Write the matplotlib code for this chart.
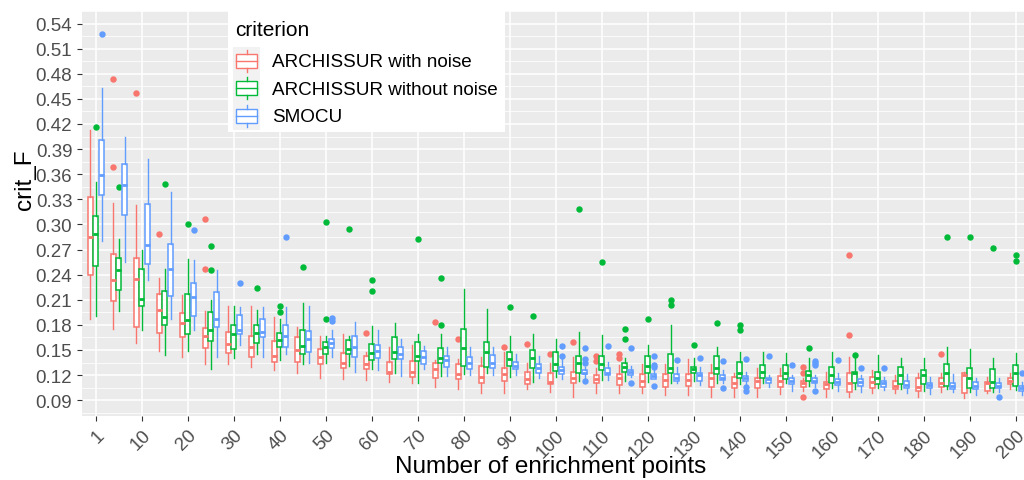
import matplotlib
matplotlib.use("Agg")
import matplotlib.pyplot as plt
from matplotlib.patches import Rectangle

plt.rcParams['font.family'] = ['Liberation Sans', 'DejaVu Sans']

# categories: number of enrichment points
points = [1] + list(range(5, 201, 5))
tick_labels = ['1'] + [str(v) for v in range(10, 201, 10)]
series = ['ARCHISSUR with noise', 'ARCHISSUR without noise', 'SMOCU']
colors = ['#F8766D', '#00BA38', '#619CFF']

# ARCHISSUR with noise: whisker low, q1, median, q3, whisker high
noise_lo = [.187, .175, .158, .149, .141, .133, .133, .130, .126, .122, .117, .115, .1145, .112,
            .110, .106, .1035, .098, .099, .103, .100, .094, .098, .098, .099, .096, .096, .094,
            .094, .094, .097, .101, .094, .094, .098, .098, .094, .100, .0925, .098, .103]
noise_q1 = [.240, .209, .178, .170, .166, .152, .146, .142, .136, .136, .133, .128, .127, .121,
            .118, .116, .115, .111, .113, .109, .109, .110, .110, .108, .106, .106, .107, .1055,
            .104, .105, .106, .106, .103, .100, .104, .103, .1015, .1055, .098, .1015, .109]
noise_med = [.2855, .233, .235, .198, .182, .167, .157, .154, .143, .150, .142, .135, .133, .124,
             .124, .127, .121, .118, .121, .115, .112, .117, .115, .116, .113, .114, .114, .117,
             .110, .113, .113, .110, .109, .110, .112, .107, .106, .111, .120, .110, .113]
noise_q3 = [.333, .265, .260, .217, .1945, .176, .172, .167, .161, .165, .151, .146, .143, .136,
            .137, .134, .133, .131, .129, .124, .122, .124, .120, .121, .121, .121, .121, .123,
            .118, .117, .119, .113, .112, .122, .118, .113, .117, .117, .123, .112, .117]
noise_hi = [.413, .325, .323, .236, .216, .196, .202, .202, .189, .178, .167, .169, .148, .153,
            .156, .138, .139, .142, .148, .135, .135, .141, .128, .132, .133, .133, .139, .133,
            .122, .128, .128, .117, .124, .142, .126, .120, .123, .123, .124, .118, .122]
noise_out = {5: [.474, .369], 10: [.457], 15: [.289], 25: [.307, .247], 60: [.1705], 75: [.184],
             80: [.163], 90: [.154], 95: [.157], 100: [.145], 105: [.160], 110: [.143, .137],
             115: [.145, .140], 155: [.130, .122, .094], 165: [.263, .168], 185: [.145]}

# ARCHISSUR without noise
clean_lo = [.190, .197, .1736, .1436, .149, .127, .140, .1456, .1385, .133, .134, .131, .127, .122,
            .111, .119, .121, .122, .118, .112, .118, .113, .114, .113, .112, .110, .113, .111,
            .109, .110, .111, .107, .105, .1035, .104, .103, .101, .103, .100, .100, .102]
clean_q1 = [.250, .2216, .203, .180, .169, .161, .1515, .158, .1535, .145, .1456, .145, .138, .139,
            .137, .134, .131, .130, .131, .128, .125, .123, .1255, .124, .123, .122, .122, .1216,
            .116, .116, .115, .113, .110, .110, .109, .109, .109, .107, .104, .104, .107]
clean_med = [.288, .245, .2106, .189, .186, .174, .1685, .170, .1614, .155, .154, .151, .146, .148,
             .143, .140, .152, .147, .139, .140, .133, .135, .133, .130, .131, .128, .127, .128,
             .122, .1236, .122, .120, .120, .122, .117, .120, .120, .123, .116, .112, .123]
clean_q3 = [.310, .260, .2465, .2205, .2165, .195, .180, .180, .170, .1736, .160, .162, .157, .165,
            .159, .152, .175, .160, .147, .150, .147, .143, .143, .135, .1425, .1456, .130, .143,
            .136, .1315, .132, .125, .130, .124, .124, .130, .126, .133, .128, .127, .132]
clean_hi = [.351, .283, .2693, .247, .259, .210, .202, .198, .1866, .2063, .167, .1665, .179, .182,
            .1685, .1685, .223, .199, .167, .1685, .163, .172, .168, .140, .156, .180, .140, .154,
            .147, .1476, .146, .140, .147, .140, .144, .140, .140, .153, .151, .140, .146]
clean_out = {1: [.416], 5: [.345], 15: [.348], 20: [.301], 25: [.274, .246], 35: [.224],
             40: [.203, .195], 45: [.249], 50: [.303, .187], 55: [.294], 60: [.233, .220],
             70: [.283], 75: [.236, .180], 90: [.2016], 95: [.190], 105: [.319], 110: [.255],
             115: [.175, .163], 120: [.187], 125: [.210, .204], 130: [.156], 135: [.182],
             140: [.180, .174], 155: [.152], 165: [.1445], 185: [.285], 190: [.285],
             195: [.272], 200: [.263, .256]}

# SMOCU
smocu_lo = [.280, .255, .233, .187, .1736, .142, .1555, .1417, .1456, .134, .1417, .124, .1255, .119,
            .127, .119, .120, .120, .1196, .116, .115, .116, .114, .118, .115, .110, .108, .110,
            .109, .1055, .1015, .106, .101, .100, .102, .098, .0976, .0995, .0956, .100, .096]
smocu_q1 = [.335, .3115, .253, .215, .191, .178, .1685, .165, .154, .147, .1527, .142, .140, .139,
            .133, .130, .127, .128, .1267, .122, .121, .121, .1196, .1196, .1157, .113, .113, .1137,
            .113, .110, .1094, .110, .108, .107, .106, .1047, .1043, .103, .1035, .104, .101]
smocu_med = [.359, .347, .2756, .2465, .213, .187, .1744, .172, .1665, .163, .158, .1535, .149, .1456,
             .1417, .138, .1346, .134, .131, .129, .126, .123, .1224, .1236, .1188, .117, .1196, .117,
             .1165, .115, .113, .113, .112, .112, .111, .108, .108, .107, .107, .107, .104]
smocu_q3 = [.4005, .3725, .3245, .277, .230, .219, .192, .187, .1795, .173, .1634, .167, .156, .153,
            .149, .143, .141, .1437, .136, .133, .1295, .1255, .1287, .126, .1212, .121, .1224, .120,
            .119, .117, .117, .116, .115, .115, .113, .113, .111, .111, .112, .110, .107]
smocu_hi = [.463, .405, .378, .339, .258, .246, .2008, .201, .2008, .203, .174, .1835, .174, .1634,
            .155, .153, .154, .153, .145, .143, .140, .130, .1354, .131, .130, .130, .130, .1255,
            .124, .120, .120, .120, .122, .120, .118, .121, .118, .121, .116, .116, .112]
smocu_out = {1: [.527], 20: [.293], 30: [.230], 40: [.285], 50: [.1886, .185], 100: [.155, .143],
             105: [.152, .139, .135, .113], 110: [.155], 115: [.152, .110],
             120: [.143, .132, .1295, .107], 125: [.138], 130: [.1405], 135: [.137, .104],
             140: [.139, .106, .101], 145: [.143], 150: [.132], 155: [.137, .134, .132, .101],
             160: [.138], 165: [.128], 170: [.128], 195: [.094], 200: [.122]}

data = [
    (noise_lo, noise_q1, noise_med, noise_q3, noise_hi, noise_out),
    (clean_lo, clean_q1, clean_med, clean_q3, clean_hi, clean_out),
    (smocu_lo, smocu_q1, smocu_med, smocu_q3, smocu_hi, smocu_out),
]

W, H = 1024, 481
fig = plt.figure(figsize=(W / 100, H / 100), dpi=100)
# panel: left 82px, top 12px, bottom 417px, 23 px per category
ax = fig.add_axes([82 / W, 1 - 417 / H, 41.2 * 23 / W, 405 / H])
ax.set_facecolor('#EBEBEB')
for s in ax.spines.values():
    s.set_visible(False)

xpos = list(range(1, len(points) + 1))
offsets = [-0.25, 0.0, 0.25]
for (lo, q1, med, q3, hi, out), off, col in zip(data, offsets, colors):
    stats = []
    for i, p in enumerate(points):
        stats.append(dict(whislo=lo[i], q1=q1[i], med=med[i], q3=q3[i], whishi=hi[i],
                          fliers=out.get(p, [])))
    ax.bxp(stats, positions=[x + off for x in xpos], widths=0.22, patch_artist=True,
           showcaps=False, manage_ticks=False,
           boxprops=dict(facecolor='white', edgecolor=col, linewidth=1.1),
           whiskerprops=dict(color=col, linewidth=1.0),
           medianprops=dict(color=col, linewidth=2.0),
           flierprops=dict(marker='o', markerfacecolor=col, markeredgecolor=col,
                           markersize=3.6, linestyle='none'),
           zorder=3)

ax.set_xlim(0.4, 41.6)
ax.set_ylim(0.0711, 0.5483)
yt = [round(0.09 + 0.03 * k, 2) for k in range(16)]
ax.set_yticks(yt)
ax.set_yticklabels(['%.2f' % v for v in yt])
ax.set_yticks([v + 0.015 for v in yt] + [0.075], minor=True)
ax.set_xticks(xpos[::2])
ax.set_xticklabels(tick_labels, rotation=45, ha='right', va='top', rotation_mode='anchor')
ax.grid(True, which='major', color='white', linewidth=1.1, zorder=0)
ax.grid(True, which='minor', axis='y', color='white', linewidth=0.55, zorder=0)
ax.set_axisbelow(True)
ax.tick_params(axis='both', which='major', length=3.5, width=0.8, color='#333333',
               labelsize=13.5, labelcolor='#4D4D4D')
ax.tick_params(axis='x', pad=4)
ax.tick_params(axis='both', which='minor', length=0)
ax.set_xlabel('Number of enrichment points', fontsize=17.5, va='center')
ax.xaxis.set_label_coords(469 / 947.6, (417 - 467) / 405)
ax.set_ylabel('crit_F', fontsize=17.5, va='center')
ax.yaxis.set_label_coords((25 - 82) / 947.6, (417 - 180) / 405)

# legend drawn in pixel units
lax = fig.add_axes([228 / W, 1 - 133 / H, 277 / W, 121 / H])
lax.set_xlim(0, 277)
lax.set_ylim(121, 0)
lax.axis('off')
lax.add_patch(Rectangle((0, 0), 277, 121, facecolor='white', edgecolor='none'))
lax.text(7, 18, 'criterion', fontsize=15, va='center', ha='left')
for k, (name, col) in enumerate(zip(series, colors)):
    top = 36 + k * 27.5
    kh = 27.5
    lax.add_patch(Rectangle((5, top), 27, kh, facecolor='#F2F2F2', edgecolor='none'))
    cx = 18.5
    lax.plot([cx, cx], [top + kh * 0.1, top + kh * 0.25], color=col, lw=1.0)
    lax.plot([cx, cx], [top + kh * 0.75, top + kh * 0.9], color=col, lw=1.0)
    lax.add_patch(Rectangle((8, top + kh * 0.25), 21, kh * 0.5, facecolor='white',
                            edgecolor=col, lw=1.0))
    lax.plot([8, 29], [top + kh * 0.5, top + kh * 0.5], color=col, lw=1.0)
    lax.text(44, top + kh / 2 + 1, name, fontsize=13.6, va='center', ha='left')

fig.savefig('out.png', dpi=100)
